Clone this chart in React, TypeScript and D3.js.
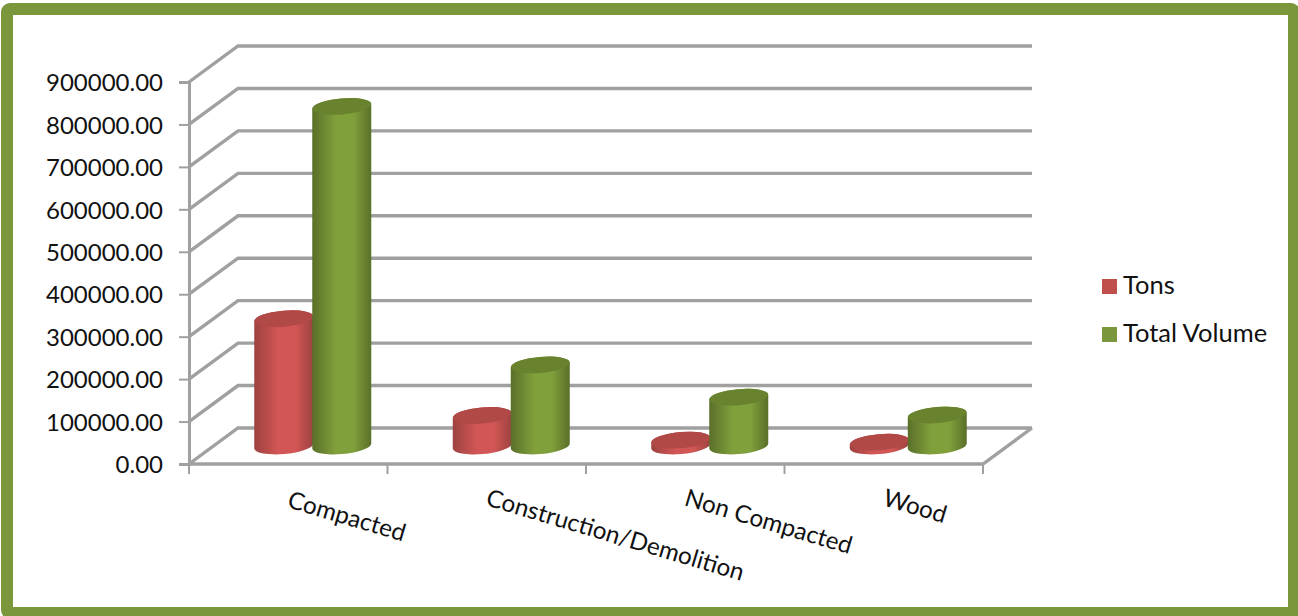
import * as d3 from "d3";
import React, { useEffect, useRef } from "react";

const categories = ["Compacted", "Construction/Demolition", "Non Compacted", "Wood"];
const seriesNames = ["Tons", "Total Volume"];
const tons = [300000, 72000, 14000, 9000];
const totalVolume = [800000, 191000, 115000, 73000];
const yTicks = [0, 100000, 200000, 300000, 400000, 500000, 600000, 700000, 800000, 900000];

const palette = [
  { edge: "#9c4240", mid: "#d15654", top: "#b14846", key: "#c0504d" },
  { edge: "#5a6f2a", mid: "#80a03b", top: "#67822f", key: "#7a973c" },
];

const App: React.FC = () => {
  const svgRef = useRef<SVGSVGElement | null>(null);

  useEffect(() => {
    const svg = d3.select(svgRef.current);
    const depthX = 49;
    const depthY = -36;
    const font = "Lato, 'Noto Sans', sans-serif";

    svg.selectAll("*").remove();

    const x = d3.scaleBand<string>().domain(categories).range([189, 983]);
    const y = d3.scaleLinear().domain([0, 900000]).range([464, 82]);

    // gradients
    const defs = svg.append("defs");
    palette.forEach((p, i) => {
      const g = defs.append("linearGradient").attr("id", `body${i}`);
      g.append("stop").attr("offset", "0%").attr("stop-color", p.edge);
      g.append("stop").attr("offset", "40%").attr("stop-color", p.mid);
      g.append("stop").attr("offset", "70%").attr("stop-color", p.mid);
      g.append("stop").attr("offset", "100%").attr("stop-color", p.edge);
    });
    defs.append("filter").attr("id", "soft").append("feGaussianBlur").attr("stdDeviation", 0.7);

    // frame
    svg
      .append("rect")
      .attr("x", 7)
      .attr("y", 9)
      .attr("width", 1287)
      .attr("height", 604)
      .attr("rx", 3)
      .attr("fill", "#fff")
      .attr("stroke", "#7a973c")
      .attr("stroke-width", 12);

    // walls and floor
    const grid = svg
      .append("g")
      .attr("fill", "none")
      .attr("stroke", "#a0a0a0")
      .attr("stroke-width", 3.4)
      .attr("filter", "url(#soft)");
    yTicks.forEach((t) => {
      grid
        .append("path")
        .attr("d", `M189,${y(t)}L${189 + depthX},${y(t) + depthY}H${983 + depthX}`);
    });
    grid.append("path").attr("d", `M189,${y(0)}H983L${983 + depthX},${y(0) + depthY}`);

    // y axis
    const axisY = svg
      .append("g")
      .attr("transform", "translate(189,0)")
      .call(d3.axisLeft(y).tickValues(yTicks).tickSize(10).tickPadding(16).tickFormat((d) => (d as number).toFixed(2)));
    axisY.select(".domain").attr("stroke", "#a0a0a0").attr("stroke-width", 3);
    axisY.selectAll(".tick line").attr("stroke", "#a0a0a0").attr("stroke-width", 2);
    axisY
      .selectAll("text")
      .attr("y", 1)
      .attr("font-family", font)
      .attr("font-size", 24)
      .attr("fill", "#111");

    // x axis
    const axisX = svg.append("g").attr("transform", `translate(0,${y(0)})`);
    [...categories.map((c) => x(c) as number), 983].forEach((t) => {
      axisX
        .append("line")
        .attr("x1", t)
        .attr("x2", t)
        .attr("y1", 0)
        .attr("y2", 10)
        .attr("stroke", "#a0a0a0")
        .attr("stroke-width", 2);
    });
    categories.forEach((c) => {
      const cx = (x(c) as number) + x.bandwidth() / 2;
      axisX
        .append("text")
        .attr("transform", `translate(${cx - 2},${c === "Compacted" ? 43 : 41}) rotate(16.5)`)
        .attr("font-family", font)
        .attr("font-size", 24.2)
        .attr("fill", "#111")
        .text(c);
    });

    // cylinders
    const rx = 29.5;
    const ry = 8;
    const tilt = -5;
    const rise = rx * Math.sin((-tilt * Math.PI) / 180);
    const bars = svg.append("g").attr("filter", "url(#soft)");
    [tons, totalVolume].forEach((values, s) => {
      values.forEach((v, i) => {
        const center = (x(categories[i]) as number) + x.bandwidth() / 2 + depthX / 2;
        const cx = center + (s === 0 ? -rx + 0.5 : rx - 0.5);
        const base = y(0) + depthY / 2;
        const top = y(v) + depthY / 2;
        const left = cx - rx;
        const right = cx + rx;
        bars
          .append("path")
          .attr(
            "d",
            `M${left},${top + rise}L${left},${base + rise}A${rx},${ry} ${tilt} 0 0 ${right},${base - rise}L${right},${top - rise}A${rx},${ry} ${tilt} 0 0 ${left},${top + rise}Z`,
          )
          .attr("fill", `url(#body${s})`);
        bars
          .append("ellipse")
          .attr("transform", `translate(${cx},${top}) rotate(${tilt})`)
          .attr("rx", rx)
          .attr("ry", ry)
          .attr("fill", palette[s].top);
      });
    });

    // legend
    const legend = svg.append("g");
    seriesNames.forEach((name, i) => {
      const ly = 279 + i * 48;
      legend
        .append("rect")
        .attr("x", 1102)
        .attr("y", ly)
        .attr("width", 15)
        .attr("height", 15)
        .attr("fill", palette[i].key);
      legend
        .append("text")
        .attr("x", 1123)
        .attr("y", ly + 15)
        .attr("font-family", font)
        .attr("font-size", 25.5)
        .attr("fill", "#111")
        .text(name);
    });
  }, []);

  return (
    <svg
      ref={svgRef}
      width={1298}
      height={616}
      style={{ position: "absolute", left: 0, top: 0 }}
    ></svg>
  );
};

export default App;
